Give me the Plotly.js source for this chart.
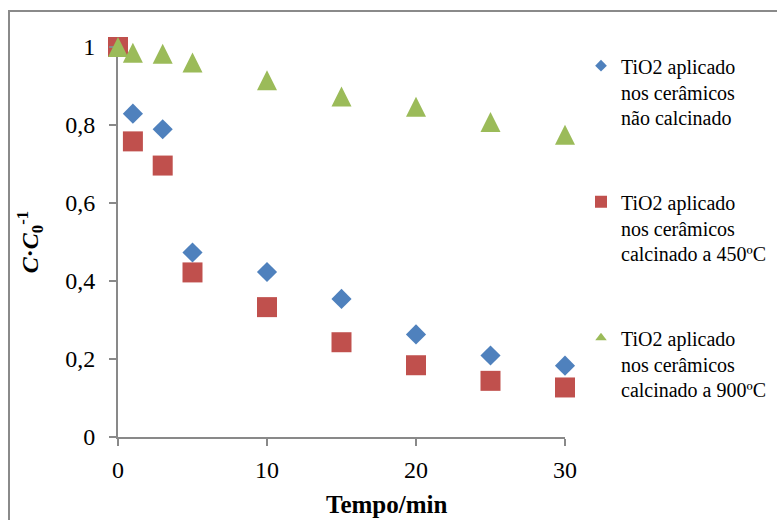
<!DOCTYPE html>
<html>
<head>
<meta charset="utf-8">
<script src="https://cdn.plot.ly/plotly-3.0.1.min.js"></script>
<style>
  html, body { margin: 0; padding: 0; background: #fff; overflow: hidden; }
  #wrap { position: relative; width: 777px; height: 520px; background: #fff; }
  #chart { position: absolute; left: 0; top: 0; width: 777px; height: 520px; }
  #frame { position: absolute; left: 8px; top: 10px; width: 800px; height: 600px;
           border: 2px solid #8a8a8a; pointer-events: none; }
</style>
</head>
<body>
<div id="wrap">
  <div id="chart"></div>
  <div id="frame"></div>
</div>
<script>
// ---- data ----
const tempo = [0, 1, 3, 5, 10, 15, 20, 25, 30];
const naoCalcinado = [1.0, 0.829, 0.789, 0.473, 0.423, 0.354, 0.263, 0.209, 0.183];
const calc450 = [1.0, 0.758, 0.696, 0.422, 0.333, 0.243, 0.184, 0.144, 0.127];
const calc900 = [1.0, 0.985, 0.983, 0.960, 0.915, 0.873, 0.847, 0.808, 0.775];
const seriesNames = [
  'TiO2 aplicado<br>nos cerâmicos<br>não calcinado',
  'TiO2 aplicado<br>nos cerâmicos<br>calcinado a 450ºC',
  'TiO2 aplicado<br>nos cerâmicos<br>calcinado a 900ºC'
];
const xTicks = [0, 10, 20, 30];
const yTicks = [0, 0.2, 0.4, 0.6, 0.8, 1];

// ---- style ----
const BLUE = '#4F81BD', RED = '#C0504D', GREEN = '#9BBB59';
const FONT = "'Liberation Serif', 'Times New Roman', serif";
const MARGIN_T = 20, MARGIN_B = 83;
const AREA_H = 520 - MARGIN_T - MARGIN_B;   // full plot area height
const AXIS_H = 390;                          // height of the drawn y axis
const yTop = AXIS_H / AREA_H;                // domain top of main y axis
const TRI_SIZE = 20;
const triShift = (TRI_SIZE / 2) / AXIS_H;    // centre arrow-up glyph on its point
const y2Span = AREA_H / AXIS_H;              // same scale as main y axis

const traces = [
  { x: tempo, y: calc900, type: 'scatter', mode: 'markers', showlegend: false, yaxis: 'y2',
    cliponaxis: false, marker: { symbol: 'arrow-up', size: TRI_SIZE, color: GREEN } },
  { x: tempo, y: naoCalcinado, type: 'scatter', mode: 'markers', showlegend: false,
    cliponaxis: false, marker: { symbol: 'diamond', size: 15.5, color: BLUE } },
  { x: tempo, y: calc450, type: 'scatter', mode: 'markers', showlegend: false,
    cliponaxis: false, marker: { symbol: 'square', size: 20, color: RED } },
  // legend entries
  { x: [null], y: [null], type: 'scatter', mode: 'markers', name: seriesNames[0], legendgroup: 'a',
    marker: { symbol: 'diamond', size: 9, color: BLUE } },
  { x: [null], y: [null], type: 'scatter', mode: 'markers', name: seriesNames[1], legendgroup: 'b',
    marker: { symbol: 'square', size: 12, color: RED } },
  { x: [null], y: [null], type: 'scatter', mode: 'markers', name: seriesNames[2], legendgroup: 'c',
    marker: { symbol: 'triangle-up', size: 10, color: GREEN } }
];

const axisCommon = {
  showgrid: false, zeroline: false, showline: true, linecolor: '#898989', linewidth: 2,
  ticks: 'outside', ticklen: 7, tickwidth: 2, tickcolor: '#898989',
  tickfont: { family: FONT, size: 24, color: '#000' }, fixedrange: true
};

const layout = {
  width: 777, height: 520,
  margin: { l: 118, r: 212, t: MARGIN_T, b: MARGIN_B, autoexpand: false },
  paper_bgcolor: '#fff', plot_bgcolor: 'rgba(0,0,0,0)',
  separators: ', ',
  showlegend: true,
  font: { family: FONT, color: '#000' },
  xaxis: Object.assign({}, axisCommon, {
    range: [0, 30], tickvals: xTicks, ticklabelstandoff: 3
  }),
  yaxis: Object.assign({}, axisCommon, {
    domain: [0, yTop],
    range: [0, 1], tickvals: yTicks, ticklabelstandoff: 9,
    title: { text: '<b><i>C</i>·<i>C</i><sub>0</sub><sup>-1</sup></b>',
             font: { family: FONT, size: 24, color: '#000' }, standoff: 20 }
  }),
  yaxis2: { anchor: 'x', domain: [0, 1], range: [-triShift, y2Span - triShift],
            visible: false, fixedrange: true },
  legend: {
    x: 1.0358, xanchor: 'left', y: 0.9372, yanchor: 'top',
    font: { family: FONT, size: 20, color: '#000' },
    valign: 'top', tracegroupgap: 55, bgcolor: 'rgba(0,0,0,0)', maxheight: 480
  },
  annotations: [{
    text: '<b>Tempo/min</b>', xref: 'paper', yref: 'paper',
    x: 0.60, y: -0.162, xanchor: 'center', yanchor: 'middle', showarrow: false,
    font: { family: FONT, size: 25, color: '#000' }
  }]
};

Plotly.newPlot('chart', traces, layout, { staticPlot: true, displayModeBar: false });
</script>
</body>
</html>
